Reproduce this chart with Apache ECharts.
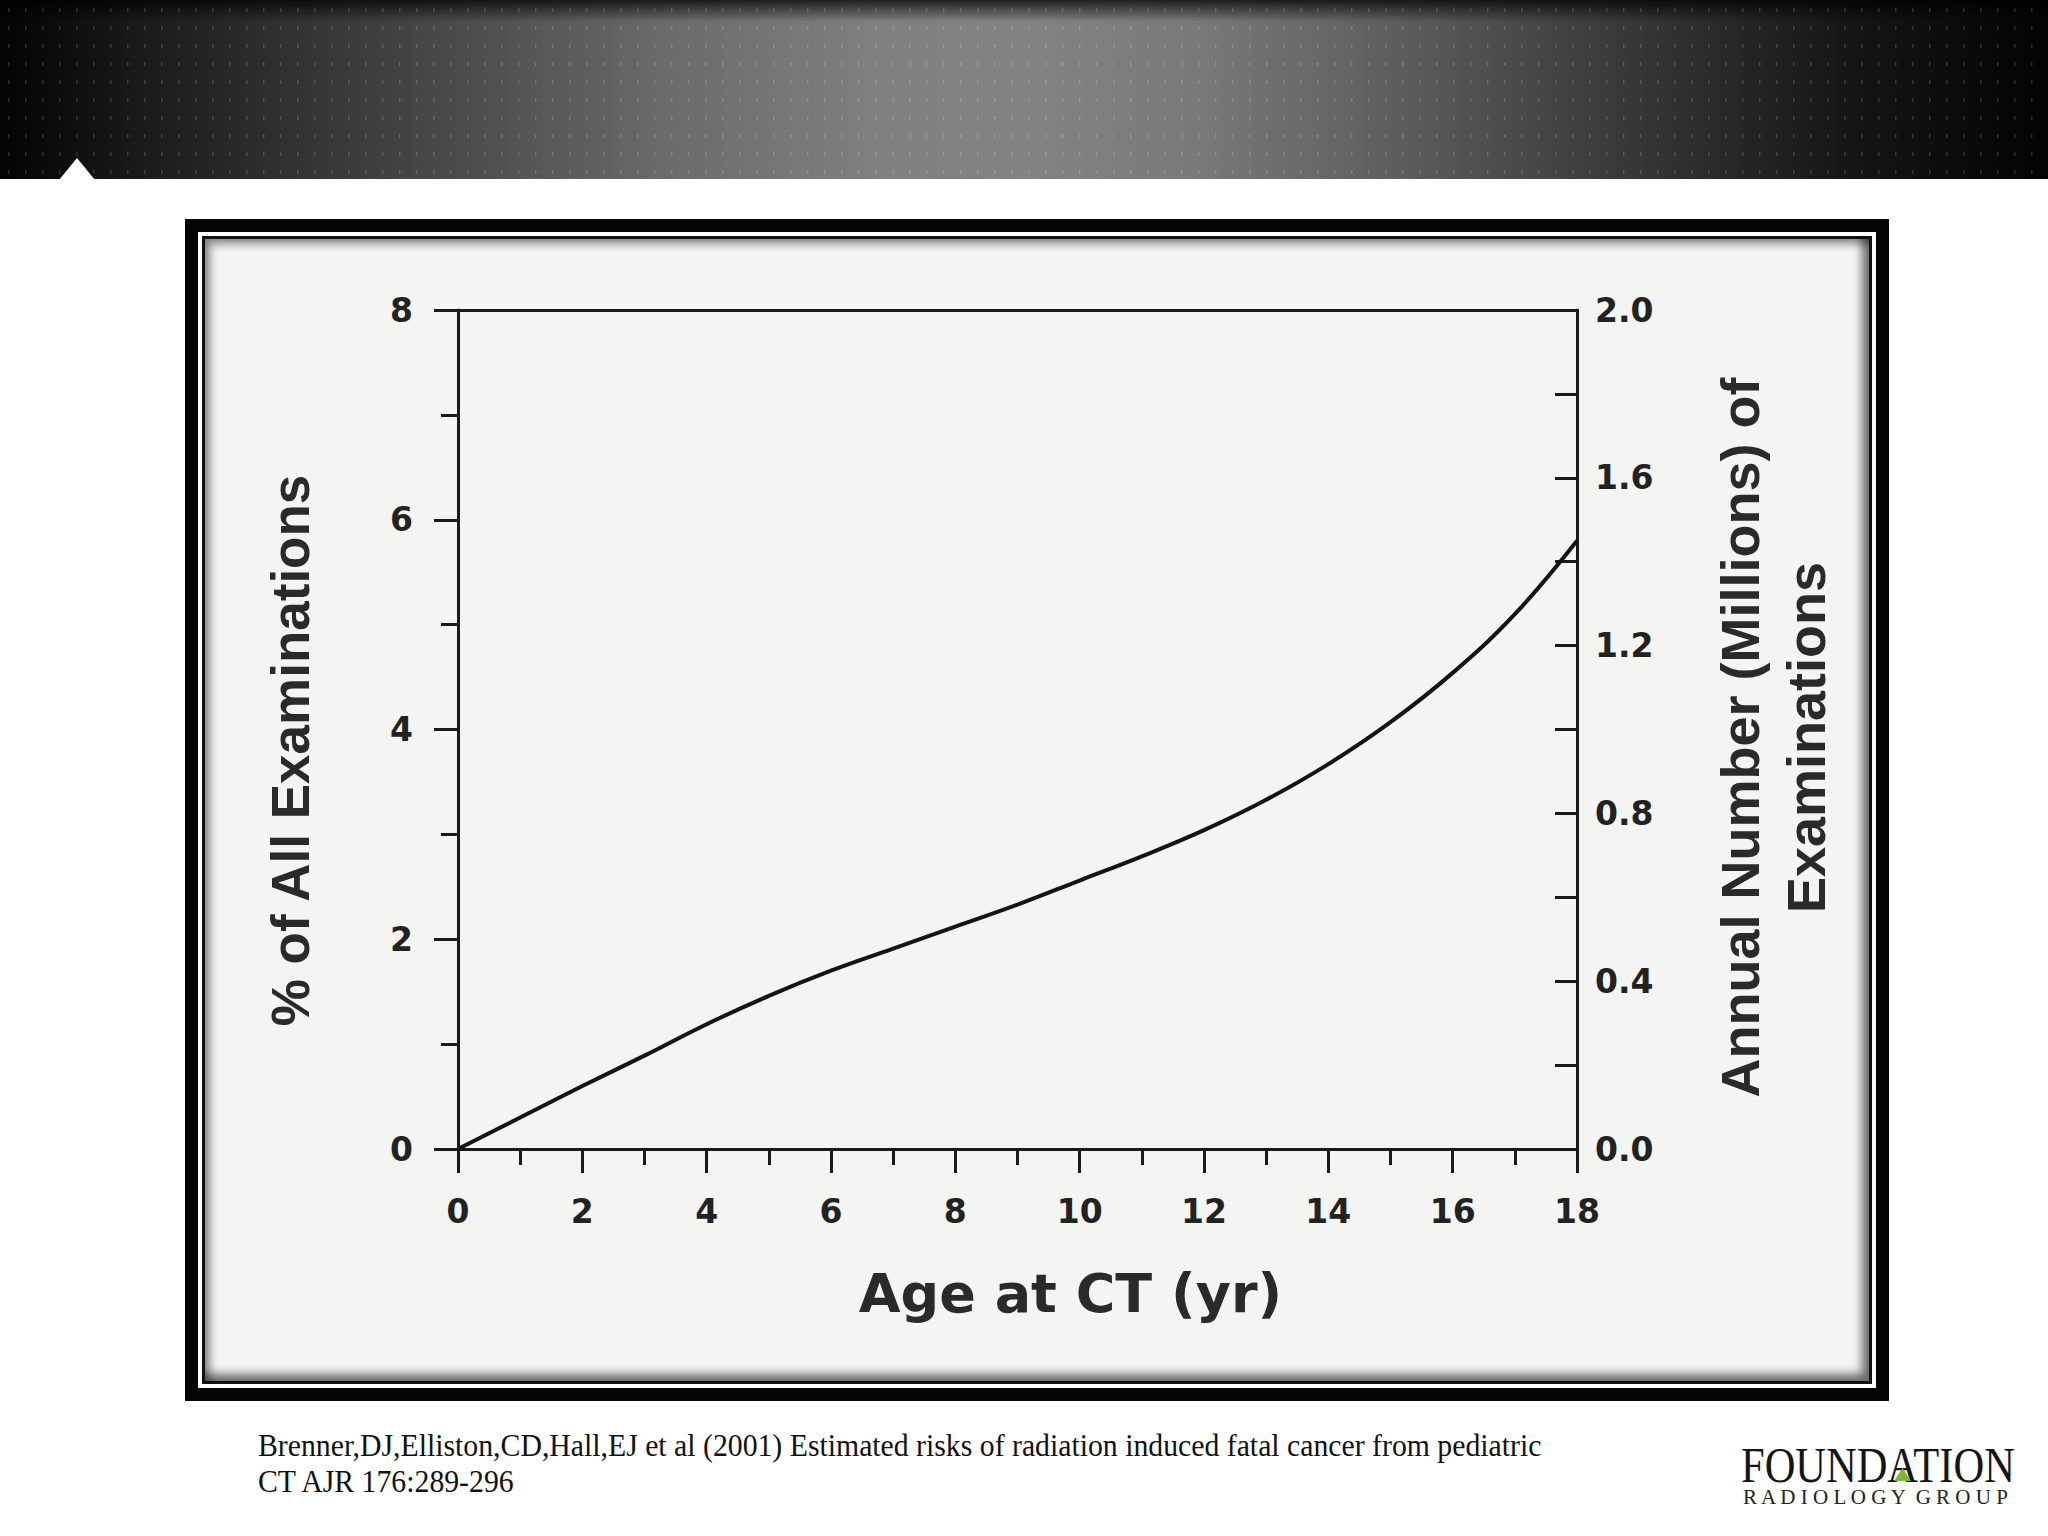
<!DOCTYPE html>
<html>
<head>
<meta charset="utf-8">
<script src="https://cdn.jsdelivr.net/npm/echarts@6/dist/echarts.min.js"></script>
<style>
  html, body { margin:0; padding:0; background:#ffffff; }
  #stage { position:relative; width:2048px; height:1536px; overflow:hidden; background:#ffffff; }
  .abs { position:absolute; }
  #header { left:0; top:0; width:2048px; height:179px;
    background-image:
      url("data:image/svg+xml;utf8,<svg xmlns='http://www.w3.org/2000/svg' width='17' height='18'><rect x='8' y='8' width='1.4' height='4' fill='rgba(255,255,255,0.16)'/></svg>"),
      linear-gradient(to bottom, rgba(0,0,0,0.75) 0px, rgba(0,0,0,0) 22px),
      linear-gradient(to right, #030303 0%, #1e1e1e 8%, #444 20%, #6c6c6c 33%, #808080 43%, #838383 50%, #7a7a7a 58%, #5e5e5e 68%, #393939 79%, #161616 90%, #030303 100%);
  }
  #notch { left:59px; top:158px; width:36px; height:22px; background:#ffffff;
    clip-path: polygon(50% 0%, 100% 100%, 0% 100%); }
  #f1 { left:185px; top:219px; width:1704px; height:1182px; background:#050505; }
  #f2 { left:198px; top:232px; width:1678px; height:1156px; background:#ffffff; }
  #f3 { left:202px; top:236px; width:1670px; height:1148px; background:#111111; }
  #f4 { left:205px; top:239px; width:1664px; height:1142px; background:#f4f5f3;
    box-shadow: inset 5px 5px 8px rgba(0,0,0,0.45), inset -7px -7px 10px rgba(0,0,0,0.55); }
  #chart { left:0; top:0; width:2048px; height:1536px; }
</style>
</head>
<body>
<div id="stage">
  <div id="header" class="abs"></div>
  <div id="notch" class="abs"></div>
  <div id="f1" class="abs"></div>
  <div id="f2" class="abs"></div>
  <div id="f3" class="abs"></div>
  <div id="f4" class="abs"></div>
  <div id="chart" class="abs"></div>
</div>
<script>
// ---- data ----
const ages = [0, 1, 2, 3, 4, 5, 6, 7, 8, 9, 10, 11, 12, 13, 14, 15, 16, 17, 18];
const pctOfAllExams = [0, 0.30, 0.60, 0.89, 1.19, 1.46, 1.70, 1.91, 2.12, 2.33, 2.56, 2.79, 3.04, 3.33, 3.67, 4.07, 4.54, 5.10, 5.80];
const xTickLabels = ['0', '2', '4', '6', '8', '10', '12', '14', '16', '18'];
const leftTickLabels = ['0', '2', '4', '6', '8'];
const rightTickLabels = ['0.0', '0.4', '0.8', '1.2', '1.6', '2.0'];
const xTitle = 'Age at CT (yr)';
const leftTitle = '% of All Examinations';
const rightTitle = 'Annual Number (Millions) of\nExaminations';
const citationLines = [
  'Brenner,DJ,Elliston,CD,Hall,EJ et al (2001) Estimated risks of radiation induced fatal cancer from pediatric',
  'CT AJR 176:289-296'
];
const logoMain = 'FOUNDATION';
const logoSub = 'R A D I O L O G Y  G R O U P';

// ---- chart ----
const ink = '#1a1a1a';
const chart = echarts.init(document.getElementById('chart'), null, { renderer: 'svg', width: 2048, height: 1536 });

const tickFont = { fontFamily: 'DejaVu Sans', fontWeight: 'bold', fontSize: 33, color: '#222222' };

const option = {
  backgroundColor: 'transparent',
  animation: false,
  grid: { left: 458, top: 310, width: 1119, height: 839, containLabel: false },
  xAxis: [
    {
      type: 'value', position: 'bottom', min: 0, max: 18, interval: 2,
      axisLine: { show: true, onZero: false, lineStyle: { color: ink, width: 3 } },
      axisTick: { show: true, inside: false, length: 24, lineStyle: { color: ink, width: 3 } },
      minorTick: { show: true, splitNumber: 2, length: 16, lineStyle: { color: ink, width: 3 } },
      splitLine: { show: false }, minorSplitLine: { show: false },
      axisLabel: Object.assign({ margin: 46, formatter: v => xTickLabels.includes(String(Math.round(v))) ? String(Math.round(v)) : '' }, tickFont),
      name: xTitle, nameLocation: 'middle', nameGap: 144,
      nameTextStyle: { fontFamily: 'DejaVu Sans', fontWeight: 'bold', fontSize: 54, color: '#2a2a2a', verticalAlign: 'middle', padding: [0, 0, 0, 106] }
    },
    {
      type: 'value', position: 'top', min: 0, max: 18,
      axisLine: { show: true, onZero: false, lineStyle: { color: ink, width: 3 } },
      axisTick: { show: false }, axisLabel: { show: false }, splitLine: { show: false }
    }
  ],
  yAxis: [
    {
      type: 'value', position: 'left', min: 0, max: 8, interval: 2,
      axisLine: { show: true, onZero: false, lineStyle: { color: ink, width: 3 } },
      axisTick: { show: true, inside: false, length: 24, lineStyle: { color: ink, width: 3 } },
      minorTick: { show: true, splitNumber: 2, length: 17, lineStyle: { color: ink, width: 3 } },
      splitLine: { show: false }, minorSplitLine: { show: false },
      axisLabel: Object.assign({ margin: 45, padding: [10, 0, 0, 0], formatter: v => leftTickLabels.includes(String(Math.round(v))) ? String(Math.round(v)) : '' }, tickFont),
      name: leftTitle, nameLocation: 'middle', nameRotate: 90, nameGap: 168,
      nameTextStyle: { fontFamily: 'Liberation Sans', fontWeight: 'bold', fontSize: 53, color: '#2a2a2a', verticalAlign: 'middle', align: 'center', padding: [0, 42, 0, 0] }
    },
    {
      type: 'value', position: 'right', min: 0, max: 2, interval: 0.2,
      axisLine: { show: true, onZero: false, lineStyle: { color: ink, width: 3 } },
      axisTick: { show: true, inside: true, length: 22, lineStyle: { color: ink, width: 3 } },
      splitLine: { show: false },
      axisLabel: Object.assign({ margin: 18, formatter: v => { const s = (Math.round(v * 10) / 10).toFixed(1); return rightTickLabels.includes(s) ? s : ''; } }, tickFont),
      name: rightTitle, nameLocation: 'middle', nameRotate: 90, nameGap: 196,
      nameTextStyle: { fontFamily: 'Liberation Sans', fontWeight: 'bold', fontSize: 54, lineHeight: 66, color: '#2a2a2a', verticalAlign: 'middle', align: 'center', padding: [0, 16, 0, 0] }
    }
  ],
  series: [
    {
      type: 'line', xAxisIndex: 0, yAxisIndex: 0,
      data: ages.map((a, i) => [a, pctOfAllExams[i]]),
      smooth: 0.4, showSymbol: false, symbol: 'none',
      lineStyle: { color: '#141414', width: 4 },
      z: 3
    }
  ],
  graphic: [
    { type: 'text', x: 258, y: 1446, scaleX: 0.96, style: { text: citationLines[0], fontFamily: 'Liberation Serif', fontSize: 31, fill: '#111111', textVerticalAlign: 'middle', verticalAlign: 'middle' } },
    { type: 'text', x: 258, y: 1482, scaleX: 0.96, style: { text: citationLines[1], fontFamily: 'Liberation Serif', fontSize: 31, fill: '#111111', textVerticalAlign: 'middle', verticalAlign: 'middle' } },
    { type: 'text', x: 1741, y: 1465, scaleX: 0.85, style: { text: logoMain, fontFamily: 'Liberation Serif', fontSize: 50, fill: '#151515', verticalAlign: 'middle', textVerticalAlign: 'middle' } },
    { type: 'polygon', shape: { points: [[1894, 1481], [1911, 1481], [1902.5, 1468]] }, style: { fill: '#7cb82f' } },
    { type: 'text', x: 1743, y: 1497, style: { text: logoSub, fontFamily: 'Liberation Serif', fontSize: 21, fill: '#222222', verticalAlign: 'middle', textVerticalAlign: 'middle' } }
  ]
};
chart.setOption(option);
</script>
</body>
</html>
